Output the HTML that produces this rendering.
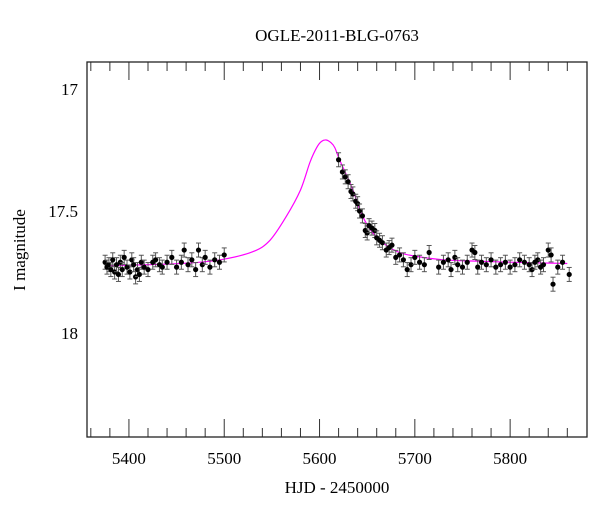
<!DOCTYPE html>
<html><head><meta charset="utf-8"><style>
body{margin:0;background:#fff;}
svg text{font-family:"Liberation Serif",serif;fill:#000;}
</style></head><body>
<svg id="chart" width="600" height="512" xmlns="http://www.w3.org/2000/svg">
<text x="337" y="41" font-size="17" text-anchor="middle">OGLE-2011-BLG-0763</text>
<text x="337" y="493" font-size="17" text-anchor="middle">HJD - 2450000</text>
<text transform="translate(25,250) rotate(-90)" font-size="17" text-anchor="middle">I magnitude</text>
<g id="axes"></g><g id="model"></g><g id="pts"></g>
<rect x="87" y="62" width="500" height="375" fill="none" stroke="#222" stroke-width="1.3"/>
</svg>
<script>
const xTicks=[5400,5500,5600,5700,5800];
const yTicks=[17,17.5,18];
const yTickLabels=["17","17.5","18"];
const modelT=[5375,5420,5460,5496,5530,5548,5565,5580,5590,5597,5602,5607,5612,5616,5621,5628,5635,5645,5656,5670,5684,5700,5730,5760,5800,5860];
const modelMag=[17.725,17.72,17.714,17.70,17.667,17.62,17.523,17.414,17.30,17.24,17.215,17.209,17.22,17.24,17.29,17.35,17.414,17.52,17.59,17.64,17.67,17.685,17.70,17.705,17.71,17.715];
const obsT=[5375,5377,5379,5381,5383,5385,5387,5389,5391,5393,5395,5398,5401,5403,5405,5407,5409,5411,5413,5416,5420,5425,5428,5432,5435,5440,5445,5450,5455,5458,5462,5466,5470,5473,5477,5480,5485,5490,5495,5500,
5620,5624,5627,5630,5633,5635,5638,5640,5642,5645,5648,5650,5652,5655,5658,5660,5663,5666,5670,5673,5676,5680,5684,5688,5692,5696,5700,5705,5710,5715,
5725,5730,5735,5738,5742,5745,5750,5755,5760,5763,5766,5770,5775,5780,5785,5790,5795,5800,5805,5810,5815,5820,5823,5826,5829,5832,5835,5840,5843,5845,5850,5855,5862];
const obsMag=[17.71,17.73,17.72,17.74,17.70,17.75,17.72,17.76,17.71,17.74,17.69,17.73,17.75,17.70,17.72,17.77,17.74,17.76,17.71,17.73,17.74,17.71,17.70,17.72,17.73,17.71,17.69,17.73,17.71,17.66,17.72,17.70,17.74,17.66,17.72,17.69,17.73,17.70,17.71,17.68,
17.29,17.34,17.36,17.38,17.42,17.43,17.46,17.47,17.50,17.52,17.58,17.59,17.56,17.57,17.58,17.61,17.62,17.63,17.66,17.65,17.64,17.69,17.68,17.70,17.74,17.72,17.69,17.71,17.72,17.67,
17.73,17.71,17.70,17.74,17.69,17.72,17.73,17.71,17.66,17.67,17.73,17.71,17.72,17.70,17.73,17.72,17.71,17.73,17.72,17.70,17.71,17.72,17.74,17.71,17.70,17.73,17.72,17.66,17.68,17.80,17.73,17.71,17.76];
const X=t=>87+(t-5356)*0.953;
const Y=m=>89+(m-17)*244;
const NS="http://www.w3.org/2000/svg";
function mk(tag,attrs,parent){const e=document.createElementNS(NS,tag);for(const k in attrs)e.setAttribute(k,attrs[k]);document.getElementById(parent).appendChild(e);return e;}
for(let t=5360;t<=5860;t+=20){const maj=t%100===0;const len=maj?18:9;
 let a=mk('line',{x1:X(t),x2:X(t),y1:437,y2:437-len,stroke:'#333'},'axes');
 
 let b=mk('line',{x1:X(t),x2:X(t),y1:62,y2:62+len,stroke:'#333'},'axes');
 }
xTicks.forEach(t=>{const e=mk('text',{x:X(t),y:464,'font-size':17,'text-anchor':'middle'},'axes');e.textContent=t;
 });
for(let i=9;i<=24;i++){const m=i/10;const maj=i%5===0;const len=maj?19:10;
 let a=mk('line',{x1:87,x2:87+len,y1:Y(m),y2:Y(m),stroke:'#333'},'axes');
 
 let b=mk('line',{x1:587,x2:587-len,y1:Y(m),y2:Y(m),stroke:'#333'},'axes');
 }
yTicks.forEach((m,i)=>{const e=mk('text',{x:78,y:Y(m)+6,'font-size':17,'text-anchor':'end'},'axes');e.textContent=yTickLabels[i];
 });
// model: Catmull-Rom smoothed path through sampled points
const P=modelT.map((t,i)=>[X(t),Y(modelMag[i])]);
let d='M'+P[0][0].toFixed(1)+','+P[0][1].toFixed(1);
for(let i=0;i<P.length-1;i++){const p0=P[Math.max(0,i-1)],p1=P[i],p2=P[i+1],p3=P[Math.min(P.length-1,i+2)];
 const c1=[p1[0]+(p2[0]-p0[0])/6,p1[1]+(p2[1]-p0[1])/6],c2=[p2[0]-(p3[0]-p1[0])/6,p2[1]-(p3[1]-p1[1])/6];
 d+='C'+c1.map(v=>v.toFixed(1)).join(',')+' '+c2.map(v=>v.toFixed(1)).join(',')+' '+p2.map(v=>v.toFixed(1)).join(',');}
const ml=mk('path',{d:d,fill:'none',stroke:'#f0f','stroke-width':1.2,'stroke-linejoin':'round'},'model');

obsT.forEach((t,i)=>{const x=X(t),y=Y(obsMag[i]),e=7;
 const g=mk('g',{},'pts');
 
 [['line',{x1:x,x2:x,y1:y-e,y2:y+e}],['line',{x1:x-2.5,x2:x+2.5,y1:y-e,y2:y-e}],['line',{x1:x-2.5,x2:x+2.5,y1:y+e,y2:y+e}]].forEach(s=>{const l=document.createElementNS(NS,s[0]);for(const k in s[1])l.setAttribute(k,s[1][k]);l.setAttribute('stroke','#555');g.appendChild(l);});
 const c=document.createElementNS(NS,'circle');c.setAttribute('cx',x);c.setAttribute('cy',y);c.setAttribute('r',2.6);c.setAttribute('fill','#000');g.appendChild(c);});
</script>
</body></html>
